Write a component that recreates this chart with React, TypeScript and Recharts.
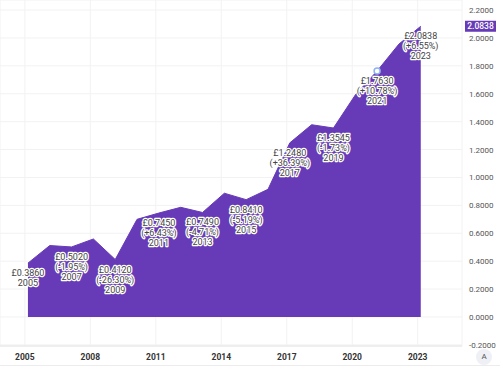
import {
  AreaChart,
  Area,
  XAxis,
  YAxis,
  CartesianGrid,
  ReferenceDot,
  ReferenceLine,
  LabelList,
} from 'recharts';

const years = [
  2005, 2006, 2007, 2008, 2009, 2010, 2011, 2012, 2013, 2014, 2015, 2016, 2017,
  2018, 2019, 2020, 2021, 2022, 2023,
];
const prices = [
  0.386, 0.512, 0.502, 0.559, 0.412, 0.7, 0.745, 0.786, 0.749, 0.887, 0.841,
  0.915, 1.248, 1.378, 1.3545, 1.591, 1.763, 1.956, 2.0838,
];
const priceLabels = [
  '£0.3860', '', '£0.5020', '', '£0.4120', '', '£0.7450', '', '£0.7490', '',
  '£0.8410', '', '£1.2480', '', '£1.3545', '', '£1.7630', '', '£2.0838',
];
const changeLabels = [
  '', '', '(-1.95%)', '', '(-26.30%)', '', '(+6.43%)', '', '(-4.71%)', '',
  '(-5.19%)', '', '(+36.39%)', '', '(-1.73%)', '', '(+10.78%)', '', '(+6.55%)',
];
const xTicks = [2005, 2008, 2011, 2014, 2017, 2020, 2023];
const yTicks = [-0.2, 0, 0.2, 0.4, 0.6, 0.8, 1, 1.2, 1.4, 1.6, 1.8, 2, 2.2];

// points sit a little after the year tick
const data = years.map((y, i) => ({
  t: y + 0.14,
  year: y,
  price: prices[i],
  label: String(i),
}));

const PURPLE = '#673ab7';

const PointLabel = (props: any) => {
  const { x, y, index } = props;
  const p = priceLabels[index];
  if (!p) return null;
  const lines = [p, changeLabels[index], String(years[index])].filter((s) => s);
  return (
    <g>
      {lines.map((s, k) => (
        <text
          key={k}
          x={x}
          y={y + 13 + k * 10}
          textAnchor='middle'
          fontSize={9}
          fontFamily='Roboto, sans-serif'
          fill='#444'
          stroke='#fff'
          strokeWidth={2.5}
          strokeLinejoin='round'
          paintOrder='stroke'
        >
          {s}
        </text>
      ))}
    </g>
  );
};

const YTick = (props: any) => {
  const { x, y, payload } = props;
  return (
    <g>
      <defs>
        <clipPath id='ytickclip'>
          <rect x={440} y={0} width={60} height={348} />
        </clipPath>
      </defs>
      <text
        x={x - 1}
        y={y + 3}
        textAnchor='start'
        fontSize={8}
        fontFamily='Roboto, sans-serif'
        fill='#555'
        clipPath='url(#ytickclip)'
      >
        {payload.value.toFixed(4)}
      </text>
    </g>
  );
};

const XTick = (props: any) => {
  const { x, y, payload } = props;
  return (
    <text
      x={x}
      y={y + 6}
      textAnchor='middle'
      fontSize={8.5}
      fontWeight={700}
      fontFamily='Roboto, sans-serif'
      fill='#333'
    >
      {payload.value}
    </text>
  );
};

const PriceTag = (props: any) => {
  const { viewBox } = props;
  const right = viewBox.x + viewBox.width;
  return (
    <g>
      <rect x={right + 3} y={viewBox.y - 5.5} width={31} height={11} fill={PURPLE} />
      <text
        x={right + 18.5}
        y={viewBox.y + 3}
        textAnchor='middle'
        fontSize={8.5}
        fontWeight={500}
        fontFamily='Roboto, sans-serif'
        fill='#fff'
      >
        {prices[prices.length - 1].toFixed(4)}
      </text>
    </g>
  );
};

export default function App() {
  return (
    <div style={{ position: 'absolute', left: 0, top: 0, width: 500, height: 373, background: '#fff' }}>
      <AreaChart
        width={500}
        height={373}
        data={data}
        margin={{ top: 0, right: 0, left: 0, bottom: 0 }}
      >
        <CartesianGrid stroke='#f2f2f2' />
        <XAxis
          dataKey='t'
          type='number'
          domain={[2003.86, 2025.03]}
          ticks={xTicks}
          allowDataOverflow
          height={27}
          tickLine={false}
          axisLine={{ stroke: '#e6e6e6' }}
          tick={<XTick />}
          interval={0}
        />
        <YAxis
          orientation='right'
          type='number'
          domain={[-0.208, 2.272]}
          ticks={yTicks}
          allowDataOverflow
          width={38}
          tickLine={false}
          axisLine={false}
          tick={<YTick />}
          interval={0}
        />
        <Area
          type='linear'
          dataKey='price'
          stroke={PURPLE}
          strokeWidth={1}
          fill={PURPLE}
          fillOpacity={1}
          baseValue={0}
          dot={false}
          activeDot={false}
          isAnimationActive={false}
        >
          <LabelList dataKey='label' content={<PointLabel />} />
        </Area>
        <ReferenceDot
          x={years[16] + 0.14}
          y={prices[16]}
          r={3}
          fill='#fff'
          stroke='#8fb2f2'
          strokeWidth={1.5}
        />
        <ReferenceLine
          y={prices[prices.length - 1]}
          stroke='none'
          ifOverflow='visible'
          label={<PriceTag />}
        />
      </AreaChart>
      <div style={{ position: 'absolute', left: 0, top: 365, width: 500, height: 1, background: '#ececec' }} />
      <div
        style={{
          position: 'absolute',
          left: 476,
          top: 349,
          width: 16,
          height: 16,
          borderRadius: 8,
          background: '#eef0f5',
          color: '#555',
          fontFamily: 'Roboto, sans-serif',
          fontSize: 8,
          lineHeight: '16px',
          textAlign: 'center',
        }}
      >
        A
      </div>
    </div>
  );
}
